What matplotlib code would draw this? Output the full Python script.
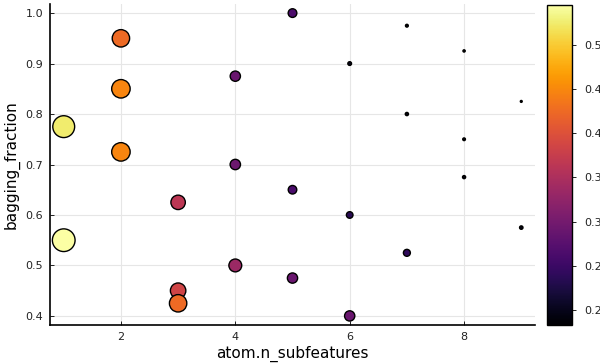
import matplotlib
matplotlib.use("Agg")
import matplotlib.pyplot as plt
import numpy as np

# data
n_subfeatures = [1, 1,
                 2, 2, 2,
                 3, 3, 3,
                 4, 4, 4,
                 5, 5, 5,
                 6, 6, 6,
                 7, 7, 7,
                 8, 8, 8,
                 9, 9]
bagging_fraction = [0.775, 0.55,
                    0.95, 0.85, 0.725,
                    0.625, 0.45, 0.425,
                    0.875, 0.70, 0.50,
                    1.0, 0.65, 0.475,
                    0.90, 0.60, 0.40,
                    0.975, 0.80, 0.525,
                    0.925, 0.75, 0.675,
                    0.825, 0.575]
loss = [0.525, 0.545,
        0.425, 0.448, 0.448,
        0.365, 0.385, 0.425,
        0.290, 0.292, 0.335,
        0.265, 0.263, 0.290,
        0.200, 0.235, 0.290,
        0.191, 0.195, 0.240,
        0.186, 0.190, 0.194,
        0.183, 0.197]
cbar_ticks = [0.20, 0.25, 0.30, 0.35, 0.40, 0.45, 0.50]

x = np.array(n_subfeatures, dtype=float)
y = np.array(bagging_fraction)
z = np.array(loss)

fig = plt.figure(figsize=(6.0, 3.64), dpi=100)
ax = fig.add_axes([50/600, 1 - 325/364, 485/600, 321/364])

vmin, vmax = z.min(), z.max()
# marker size grows with loss (d^1.5 linear in loss)
dmin_px, dmax_px, p = 2.7, 23.5, 1.5
tnorm = (z - vmin) / (vmax - vmin)
d_px = (dmin_px**p + tnorm * (dmax_px**p - dmin_px**p)) ** (1 / p) - 0.8
s = (d_px * 0.72) ** 2

sc = ax.scatter(x, y, c=z, s=s, cmap="inferno", vmin=vmin, vmax=vmax,
                edgecolors="black", linewidths=1.0, zorder=3)

ax.set_xlim(0.76, 9.24)
ax.set_ylim(0.382, 1.018)
ax.set_xticks([2, 4, 6, 8])
ax.set_yticks([0.4, 0.5, 0.6, 0.7, 0.8, 0.9, 1.0])
ax.set_yticklabels(["0.4", "0.5", "0.6", "0.7", "0.8", "0.9", "1.0"])
ax.grid(True, color="#e6e6e6", linewidth=0.8, zorder=0)
ax.set_axisbelow(True)
for sp in ["top", "right"]:
    ax.spines[sp].set_visible(False)
for sp in ["left", "bottom"]:
    ax.spines[sp].set_linewidth(1.2)
ax.tick_params(direction="in", length=3, width=0.6, labelsize=8,
               labelcolor="#222222", pad=5)
ax.set_xlabel("atom.n_subfeatures", fontsize=11, labelpad=3)
ax.set_ylabel("bagging_fraction", fontsize=11, labelpad=4)

cax = fig.add_axes([547/600, 1 - 325/364, 25/600, 320/364])
cb = fig.colorbar(sc, cax=cax)
cb.set_ticks(cbar_ticks)
cb.set_ticklabels([f"{t:.2f}" for t in cbar_ticks])
cax.tick_params(labelsize=8, length=3, width=0.6, labelcolor="#222222", pad=6)
cb.outline.set_linewidth(1.0)

fig.savefig("out.png", dpi=100)
